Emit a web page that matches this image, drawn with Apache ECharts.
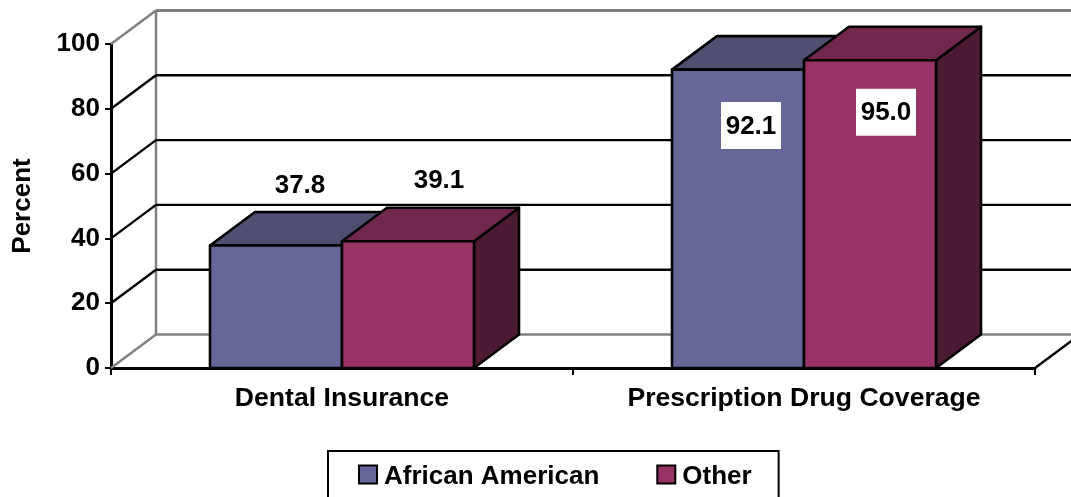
<!DOCTYPE html>
<html>
<head>
<meta charset="utf-8">
<style>html,body{margin:0;padding:0;background:#fff}#c{width:1071px;height:497px}</style>
<script src="https://cdn.jsdelivr.net/npm/echarts@6/dist/echarts.min.js"></script>
</head>
<body>
<div id="c"></div>
<script>
const categories = ['Dental Insurance', 'Prescription Drug Coverage'];
const africanAmerican = [37.8, 92.1];
const other = [39.1, 95.0];
const yTicks = [0, 20, 40, 60, 80, 100];
const seriesNames = ['African American', 'Other'];
const valueText = [['37.8', '92.1'], ['39.1', '95.0']];

const FONT = '"Liberation Sans", Arial, sans-serif';
const DX = 45, DY = -33.5;
const GAP_RATIO = 0.75;
const faceColors = [
  { front: '#666699', top: '#4f4f72', side: '#333366' },
  { front: '#993366', top: '#72284d', side: '#4d1a33' }
];
// label offsets from the bar's top-centre, in pixels
const labelOffsets = [
  [[24, -61], [13, 56]],
  [[31, -61], [16, 52]]
];
const labelBoxes = [false, true];

function barRender(si) {
  return function (params, api) {
    const cat = api.value(0), val = api.value(1);
    const band = api.size([1, 0])[0];
    const w = band / (2 + GAP_RATIO * 2);
    const c = api.coord([cat, val]);
    const base = api.coord([cat, 0]);
    const x0 = c[0] - w + si * w, x1 = x0 + w, yt = c[1], yb = base[1];
    const colors = faceColors[si];
    const st = (fill) => ({ fill: fill, stroke: '#000', lineWidth: 2.6, lineJoin: 'round' });
    const children = [
      { type: 'polygon', shape: { points: [[x1, yt], [x1 + DX, yt + DY], [x1 + DX, yb + DY], [x1, yb]] }, style: st(colors.side) },
      { type: 'polygon', shape: { points: [[x0, yt], [x0 + DX, yt + DY], [x1 + DX, yt + DY], [x1, yt]] }, style: st(colors.top) },
      { type: 'polygon', shape: { points: [[x0, yt], [x1, yt], [x1, yb], [x0, yb]] }, style: st(colors.front) }
    ];
    const off = labelOffsets[si][cat];
    const lx = (x0 + x1) / 2 + off[0], ly = yt + off[1];
    if (labelBoxes[cat]) {
      children.push({ type: 'rect', shape: { x: lx - 30, y: ly - 23.5, width: 60, height: 47 }, style: { fill: '#fff' } });
    }
    children.push({
      type: 'text',
      style: { x: lx, y: ly + 1, text: valueText[si][cat], fill: '#000', font: 'bold 26px ' + FONT, align: 'center', verticalAlign: 'middle' }
    });
    return { type: 'group', children: children };
  };
}

function wallRender(params, api) {
  const tick = api.value(1);
  const cs = params.coordSys;
  const y = api.coord([0, tick])[1];
  const xl = cs.x, xr = cs.x + cs.width;
  const isEdge = tick === yTicks[0] || tick === yTicks[yTicks.length - 1];
  const color = isEdge ? '#808080' : '#000';
  const children = [
    { type: 'line', shape: { x1: xl, y1: y, x2: xl + DX, y2: y + DY }, style: { stroke: color, lineWidth: 2.4 } },
    { type: 'line', shape: { x1: xl + DX, y1: y + DY, x2: xr + DX, y2: y + DY }, style: { stroke: color, lineWidth: tick === yTicks[yTicks.length - 1] ? 3 : 2.4 } }
  ];
  if (tick === yTicks[0]) {
    const top = api.coord([0, yTicks[yTicks.length - 1]])[1];
    children.push({ type: 'line', shape: { x1: xl + DX, y1: y + DY, x2: xl + DX, y2: top + DY }, style: { stroke: '#808080', lineWidth: 2.5 } });
    children.push({ type: 'line', shape: { x1: xr, y1: y, x2: xr + DX, y2: y + DY }, style: { stroke: '#000', lineWidth: 2.4 } });
  }
  return { type: 'group', children: children };
}

const chart = echarts.init(document.getElementById('c'), null, { renderer: 'canvas' });
chart.setOption({
  animation: false,
  backgroundColor: '#fff',
  grid: { left: 111, top: 44, width: 924, height: 324, outerBoundsMode: 'none', containLabel: false },
  xAxis: {
    type: 'category',
    data: categories,
    axisLine: { lineStyle: { color: '#000', width: 3 } },
    axisTick: { show: true, length: 7, alignWithLabel: false, lineStyle: { color: '#000', width: 2 } },
    axisLabel: { color: '#000', fontFamily: FONT, fontWeight: 'bold', fontSize: 26.6, margin: 17, interval: 0 }
  },
  yAxis: {
    type: 'value',
    min: 0, max: 100, interval: 20,
    name: 'Percent',
    nameLocation: 'middle',
    nameRotate: 90,
    nameGap: 75,
    nameTextStyle: { color: '#000', fontFamily: FONT, fontWeight: 'bold', fontSize: 26 },
    splitLine: { show: false },
    axisLine: { show: true, lineStyle: { color: '#000', width: 3 } },
    axisTick: { show: true, length: 6, lineStyle: { color: '#000', width: 2 } },
    axisLabel: { color: '#000', fontFamily: FONT, fontWeight: 'bold', fontSize: 26, margin: 11, padding: [0, 0, 5, 0] }
  },
  legend: {
    data: seriesNames,
    left: 328, top: 451,
    padding: [13, 27, 40, 30],
    itemGap: 57,
    itemWidth: 18, itemHeight: 18,
    icon: 'rect',
    borderColor: '#000', borderWidth: 2,
    selectedMode: false,
    itemStyle: { borderColor: '#000', borderWidth: 2 },
    formatter: '{n|{name}}',
    textStyle: {
      color: '#000', fontFamily: FONT, fontWeight: 'bold', fontSize: 26,
      rich: { n: { color: '#000', fontFamily: FONT, fontWeight: 'bold', fontSize: 26, padding: [5, 0, 0, 2] } }
    }
  },
  series: [
    { type: 'custom', name: 'walls', z: 1, silent: true, renderItem: wallRender, data: yTicks.map(t => [0, t]), encode: { x: 0, y: 1 } },
    { type: 'custom', name: seriesNames[0], z: 3, color: faceColors[0].front, renderItem: barRender(0),
      data: africanAmerican.map((v, i) => [i, v]), encode: { x: 0, y: 1 } },
    { type: 'custom', name: seriesNames[1], z: 4, color: faceColors[1].front, renderItem: barRender(1),
      data: other.map((v, i) => [i, v]), encode: { x: 0, y: 1 } }
  ]
});
</script>
</body>
</html>
